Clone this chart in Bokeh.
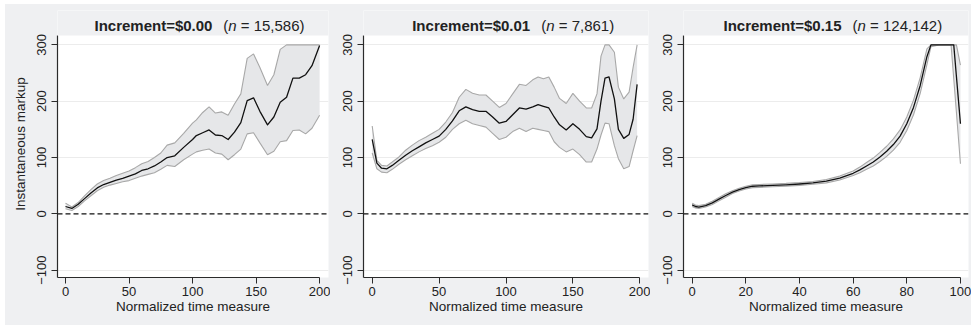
from bokeh.plotting import figure
from bokeh.layouts import row
from bokeh.models import Range1d, FixedTicker, Span, Label, ColumnDataSource, BoxAnnotation
from bokeh.embed import file_html
from bokeh.resources import INLINE

# ---------------- data ----------------
titles = ["Increment=$0.00", "Increment=$0.01", "Increment=$0.15"]
n_labels = ["= 15,586)", "= 7,861)", "= 124,142)"]

x1 = [0, 5, 10, 15, 20, 25, 30, 35, 40, 45, 50, 55, 60, 65, 70, 75, 80, 86, 93, 100,
      103, 108, 113, 118, 123, 128, 133, 138, 143, 148, 153, 159, 164, 169, 174, 179,
      184, 189, 194, 200]
mean1 = [13, 9.5, 17, 27, 37, 46, 52, 56, 60, 63, 67, 71, 77, 80, 85, 92, 100, 103, 118, 132,
         139, 144, 149, 140, 139, 132, 145, 162, 201, 206, 182, 158, 172, 198, 207, 241,
         241, 247, 263, 299]
upper1 = [19, 12, 20, 32, 43, 53, 59, 63, 68, 72, 76, 82, 89, 93, 100, 108, 122, 126, 143, 161,
          167, 180, 190, 179, 181, 175, 195, 213, 276, 284, 260, 228, 247, 292, 300, 300,
          300, 300, 300, 300]
lower1 = [9, 6, 13, 23, 32, 41, 47, 51, 54, 57, 59, 63, 67, 70, 73, 79, 86, 84, 96, 106,
          110, 113, 115, 108, 106, 96, 105, 115, 142, 144, 126, 105, 111, 128, 130, 148,
          149, 142, 152, 175]

x2 = [0, 3.5, 7, 11, 15, 20, 25, 30, 35, 40, 45, 50, 55, 60, 65, 70, 75, 80, 85, 90, 95, 100,
      105, 110, 115, 120, 124, 128, 132, 136, 140, 145, 150, 155, 160, 164, 168, 171, 174,
      177, 181, 184, 188, 192, 195, 198]
mean2 = [132, 90, 81, 80, 86, 95, 104, 112, 119, 126, 132, 138, 150, 165, 183, 190, 185, 182,
         182, 172, 161, 164, 176, 188, 186, 190, 194, 191, 188, 172, 158, 149, 160, 150, 137,
         135, 151, 200, 241, 243, 204, 150, 134, 141, 168, 230]
upper2 = [156, 95, 86, 85, 92, 101, 113, 122, 130, 136, 143, 150, 163, 180, 207, 221, 214, 211,
          211, 200, 189, 196, 213, 230, 228, 238, 243, 240, 243, 225, 205, 196, 214, 200, 188,
          188, 213, 280, 300, 300, 287, 225, 204, 216, 260, 300]
lower2 = [108, 80, 74, 73, 79, 88, 96, 103, 110, 116, 121, 127, 136, 150, 160, 166, 160, 157,
          154, 143, 132, 136, 146, 152, 146, 152, 150, 148, 146, 128, 118, 110, 115, 105, 92,
          92, 115, 140, 161, 160, 121, 98, 80, 84, 112, 139]

x3 = [0, 1.2, 2.5, 5, 7.5, 10, 12.5, 15, 17.5, 20, 22.5, 25, 30, 35, 40, 45, 50, 55, 60, 62.5,
      65, 67.5, 70, 72.5, 75, 77.5, 80, 82.5, 85, 87.5, 89, 92, 95, 96.5, 97.5, 98.5, 100]
mean3 = [16, 13, 12, 14.5, 19.5, 26, 32.5, 38.5, 43, 46.5, 49, 49.5, 50.5, 51.5, 53, 55, 58,
         63.5, 72, 78, 85, 92, 101, 111, 123, 138, 160, 189, 228, 279, 300, 300, 300, 300,
         300, 244, 160]
upper3 = [19, 15.5, 14.5, 17, 22.5, 29, 35.5, 41, 45.5, 49, 51.5, 52, 53, 54, 55.5, 57.5, 61,
          67, 76, 83, 91, 99, 109, 120, 133, 149, 172, 202, 242, 293, 300, 300, 300, 300,
          300, 300, 264]
lower3 = [13, 10.5, 9.5, 12, 16.5, 23, 29.5, 36, 40.5, 44, 46.5, 47, 48, 49, 50.5, 52.5, 55,
          60, 68, 73, 79, 85, 93, 102, 113, 127, 148, 176, 214, 265, 297, 300, 300, 300,
          240, 180, 89]

y_ticks = [-100, 0, 100, 200, 300]
x_ticks_a = [0, 50, 100, 150, 200]
x_ticks_b = [0, 20, 40, 60, 80, 100]

# ---------------- styling ----------------
FONT = "Liberation Sans"
BG = "#eff0f2"
BAND_FILL = "#e6e7e9"
BAND_EDGE = "#a8a8a8"
AXIS_COL = "#2b2b2b"
TEXT_COL = "#222222"

Y_LO, Y_TOP, Y_HI = -113.1, 316.7, 361.1   # plotted area ends at Y_TOP; title band above

panels = [
    dict(x=x1, m=mean1, u=upper1, l=lower1, xr=(-6.3, 207.0), xt=x_ticks_a, xmax=200,
         w=325, bl=52, br=2, ylab=True,
         tx=(22.8, 124.1, 128.0, 137.9)),
    dict(x=x2, m=mean2, u=upper2, l=lower2, xr=(-6.5, 206.5), xt=x_ticks_a, xmax=200,
         w=320, bl=33, br=2, ylab=False,
         tx=(29.9, 126.3, 130.0, 139.4)),
    dict(x=x3, m=mean3, u=upper3, l=lower3, xr=(-3.24, 103.0), xt=x_ticks_b, xmax=100,
         w=321, bl=33, br=3, ylab=False,
         tx=(11.67, 59.75, 61.6, 66.3)),
]

figs = []
for i, pd_ in enumerate(panels):
    p = figure(width=pd_["w"], height=321, output_backend="svg", toolbar_location=None,
               x_range=Range1d(*pd_["xr"]), y_range=Range1d(Y_LO, Y_HI),
               min_border_left=pd_["bl"], min_border_right=pd_["br"],
               min_border_top=6, min_border_bottom=48)
    p.border_fill_color = BG
    p.background_fill_color = "white"
    p.outline_line_color = None
    p.styles = {"background-color": BG}

    # grid
    p.xgrid.visible = False
    p.ygrid.ticker = FixedTicker(ticks=[-100, 100, 200, 300])
    p.ygrid.grid_line_color = "#ececec"
    p.ygrid.grid_line_width = 1

    # axes
    p.xaxis.ticker = FixedTicker(ticks=pd_["xt"])
    p.yaxis.ticker = FixedTicker(ticks=y_ticks)
    p.yaxis.major_label_overrides = {-100: "\u2212100"}
    p.xaxis.bounds = (pd_["xr"][0], pd_["xmax"])
    p.yaxis.bounds = (Y_LO, Y_TOP)
    for ax in (p.xaxis[0], p.yaxis[0]):
        ax.axis_line_color = AXIS_COL
        ax.axis_line_width = 1.2
        ax.major_tick_line_color = AXIS_COL
        ax.major_tick_line_width = 1
        ax.major_tick_out = 6
        ax.major_tick_in = 0
        ax.minor_tick_line_color = None
        ax.major_label_text_font = FONT
        ax.major_label_text_font_size = "13px"
        ax.major_label_text_color = TEXT_COL
        ax.axis_label_text_font = FONT
        ax.axis_label_text_font_size = "13.5px"
        ax.axis_label_text_font_style = "normal"
        ax.axis_label_text_color = TEXT_COL
    p.yaxis.major_label_orientation = "vertical"
    p.yaxis.major_label_standoff = 5
    p.xaxis.major_label_standoff = 3
    p.xaxis.axis_label = "Normalized time measure"
    p.xaxis.axis_label_standoff = 0
    if pd_["ylab"]:
        p.yaxis.axis_label = "Instantaneous markup"
        p.yaxis.axis_label_standoff = 7

    src = ColumnDataSource(dict(x=pd_["x"], m=pd_["m"], u=pd_["u"], l=pd_["l"]))
    p.varea(x="x", y1="l", y2="u", source=src, fill_color=BAND_FILL)
    p.line(x="x", y="u", source=src, line_color=BAND_EDGE, line_width=1.1)
    p.line(x="x", y="l", source=src, line_color=BAND_EDGE, line_width=1.1)
    p.add_layout(Span(location=0, dimension="width", line_color="#111111",
                      line_width=1.2, line_dash="5 3"))
    p.line(x="x", y="m", source=src, line_color="#111111", line_width=1.3,
           line_join="round")

    # title band (grey strip above the plotted area)
    p.add_layout(BoxAnnotation(bottom=Y_TOP, fill_color=BG, fill_alpha=1.0,
                               line_color=None, level="overlay"))

    tb, tp, tn, te = pd_["tx"]
    common = dict(y=335, x_units="data", y_units="data", text_font=FONT,
                  text_font_size="15px", text_baseline="middle", text_align="left",
                  text_color=TEXT_COL, level="overlay")
    p.add_layout(Label(x=tb, text=titles[i], text_font_style="bold", **common))
    p.add_layout(Label(x=tp, text="(", **common))
    p.add_layout(Label(x=tn, text="n", text_font_style="italic", **common))
    p.add_layout(Label(x=te, text=n_labels[i], **common))
    figs.append(p)

layout = row(*figs, margin=(4, 0, 3, 5))
layout.styles = {"background-color": BG}

open("out.html", "w").write(file_html(layout, INLINE))
